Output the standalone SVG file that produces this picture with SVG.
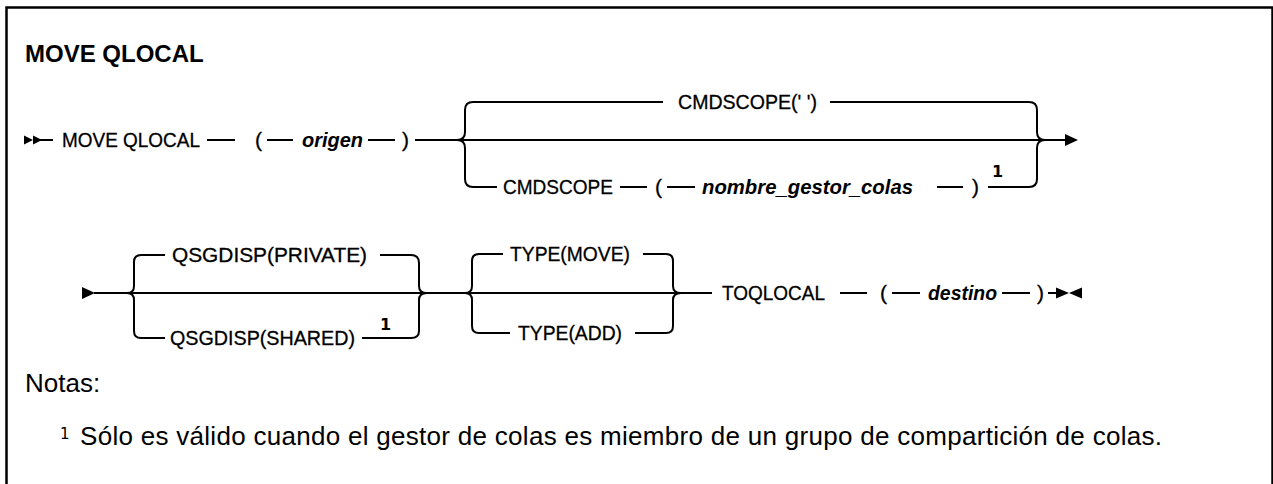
<svg xmlns="http://www.w3.org/2000/svg" width="1273" height="484" viewBox="0 0 1273 484">
<defs>
<style>
.ln{stroke:#000;stroke-width:2;fill:none}
.ar{fill:#000;stroke:none}
.t{font-family:"Liberation Sans",Arial,sans-serif;font-size:21px;fill:#000;stroke:#000;stroke-width:0.3}
.v{font-family:"Liberation Sans",Arial,sans-serif;font-size:20.5px;font-weight:bold;font-style:italic;fill:#000}
.sup{font-family:"DejaVu Sans",sans-serif;font-size:16px;font-weight:bold;fill:#000}
.fn{font-family:"DejaVu Sans",sans-serif;font-size:15px;fill:#000}
.title{font-family:"Liberation Sans",Arial,sans-serif;font-size:24px;font-weight:bold;fill:#000}
.note{font-family:"Liberation Sans",Arial,sans-serif;font-size:26px;fill:#000}
</style>
</defs>
<rect x="6.5" y="7.5" width="1266" height="500" fill="#fff" stroke="#000" stroke-width="2.5"/>
<text class="title" x="25" y="62">MOVE QLOCAL</text>

<g id="connectors">
<!-- row 1 -->
<polygon class="ar" points="24,135.5 33,140 24,144.5"/>
<polygon class="ar" points="33,135.5 42,140 33,144.5"/>
<path class="ln" d="M33,140 H53"/>
<path class="ln" d="M207,140 H235 M267,140 H293 M368,140 H395 M415,140 H1066"/>
<polygon class="ar" points="1065,134 1078,140 1065,146"/>
<path class="ln" d="M457,140 Q465,140 465,132 V110 Q465,102 473,102 H663"/>
<path class="ln" d="M830,102 H1029 Q1037,102 1037,110 V132 Q1037,140 1045,140"/>
<path class="ln" d="M457,140 Q465,140 465,148 V179 Q465,187 473,187 H497"/>
<path class="ln" d="M620,187 H647 M667,187 H695 M937,187 H963"/>
<path class="ln" d="M988,187 H1029 Q1037,187 1037,179 V148 Q1037,140 1045,140"/>
<!-- row 2 -->
<polygon class="ar" points="82,287 95,293 82,299"/>
<path class="ln" d="M94,293 H712"/>
<path class="ln" d="M127,293 Q134,293 134,286 V262 Q134,255 141,255 H165"/>
<path class="ln" d="M380,255 H411 Q419,255 419,263 V286 Q419,293 427,293"/>
<path class="ln" d="M127,293 Q134,293 134,300 V331 Q134,338 141,338 H165"/>
<path class="ln" d="M362,338 H411 Q419,338 419,331 V300 Q419,293 427,293"/>
<path class="ln" d="M465,293 Q472,293 472,286 V261 Q472,254 479,254 H503"/>
<path class="ln" d="M643,254 H666 Q673,254 673,261 V286 Q673,293 681,293"/>
<path class="ln" d="M465,293 Q472,293 472,300 V326 Q472,333 479,333 H510"/>
<path class="ln" d="M635,333 H666 Q673,333 673,326 V300 Q673,293 681,293"/>
<path class="ln" d="M840,293 H867 M892,293 H920 M1002,293 H1030 M1048,293 H1060"/>
<polygon class="ar" points="1056,287.5 1069,293 1056,298.5"/>
<polygon class="ar" points="1082,287.5 1069,293 1082,298.5"/>
</g>

<g id="n-move-qlocal"><text class="t" x="62" y="147" textLength="138" lengthAdjust="spacingAndGlyphs">MOVE QLOCAL</text></g>
<g id="n-lparen1"><text class="t" x="255" y="147">(</text></g>
<g id="n-origen"><text class="v" x="302" y="147" textLength="61" lengthAdjust="spacingAndGlyphs">origen</text></g>
<g id="n-rparen1"><text class="t" x="402" y="147">)</text></g>
<g id="n-cmdscope-default"><text class="t" x="678" y="109" textLength="139" lengthAdjust="spacingAndGlyphs">CMDSCOPE(' ')</text></g>
<g id="n-cmdscope"><text class="t" x="503" y="194" textLength="110" lengthAdjust="spacingAndGlyphs">CMDSCOPE</text></g>
<g id="n-lparen2"><text class="t" x="655" y="194">(</text></g>
<g id="n-qmgr"><text class="v" x="702" y="194" textLength="211" lengthAdjust="spacingAndGlyphs">nombre_gestor_colas</text></g>
<g id="n-rparen2"><text class="t" x="972" y="194">)</text></g>
<g id="n-sup1"><text class="sup" x="992" y="177">1</text></g>

<g id="n-qsg-private"><text class="t" x="172" y="262" textLength="195" lengthAdjust="spacingAndGlyphs">QSGDISP(PRIVATE)</text></g>
<g id="n-qsg-shared"><text class="t" x="170" y="345" textLength="185" lengthAdjust="spacingAndGlyphs">QSGDISP(SHARED)</text></g>
<g id="n-sup2"><text class="sup" x="380" y="330">1</text></g>
<g id="n-type-move"><text class="t" x="510" y="261" textLength="120" lengthAdjust="spacingAndGlyphs">TYPE(MOVE)</text></g>
<g id="n-type-add"><text class="t" x="518" y="340" textLength="104" lengthAdjust="spacingAndGlyphs">TYPE(ADD)</text></g>
<g id="n-toqlocal"><text class="t" x="722" y="300" textLength="103" lengthAdjust="spacingAndGlyphs">TOQLOCAL</text></g>
<g id="n-lparen3"><text class="t" x="880" y="300">(</text></g>
<g id="n-destino"><text class="v" x="928" y="300" textLength="69" lengthAdjust="spacingAndGlyphs">destino</text></g>
<g id="n-rparen3"><text class="t" x="1037" y="300">)</text></g>

<g id="notes">
<text class="note" x="25" y="392">Notas:</text>
<text class="fn" x="60" y="439">1</text>
<text class="note" x="80" y="445" textLength="1082">Sólo es válido cuando el gestor de colas es miembro de un grupo de compartición de colas.</text>
</g>
</svg>
